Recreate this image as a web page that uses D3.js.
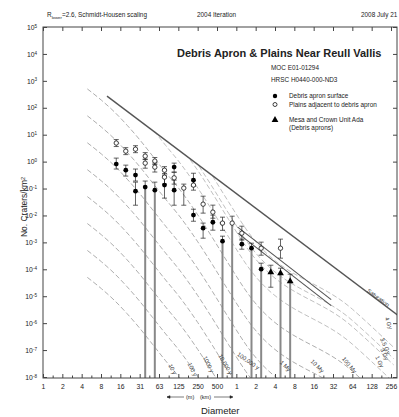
<!DOCTYPE html>
<html><head><meta charset="utf-8">
<script src="https://cdn.jsdelivr.net/npm/d3@7"></script>
<style>
body{margin:0;background:#fff;}
svg{display:block;font-family:"Liberation Sans",Arial,sans-serif;}
</style>
</head><body>
<svg id="chart" width="399" height="417"></svg>
<script>
// ---------------- data ----------------
const xTickKm = [1/1024,1/512,1/256,1/128,1/64,1/32,1/16,1/8,1/4,1/2,1,2,4,8,16,32,64,128,256];
const xTickLabels = ["1","2","4","8","16","31","63","125","250","500","1","2","4","8","16","32","64","128","256"];
const yTickExp = [5,4,3,2,1,0,-1,-2,-3,-4,-5,-6,-7,-8];

// [diameter km, N per km2, lower error (0 = to axis), upper error]
const apronPoints = [
  [0.0135, 0.81, 0.53, 1.35],
  [0.0190, 0.48, 0.29, 0.74],
  [0.0269, 0.315, 0.19, 0.53],
  [0.0269, 0.080, 0.024, 0.173],
  [0.0381, 0.113, 0, 0.19],
  [0.0538, 0.087, 0, 0.173],
  [0.0761, 0.134, 0.044, 0.315],
  [0.1076, 0.625, 0.41, 0.88],
  [0.1076, 0.087, 0.024, 0.205],
  [0.215, 0.205, 0.123, 0.37],
  [0.215, 0.0103, 0.0061, 0.0171],
  [0.304, 0.00337, 0.00143, 0.0052],
  [0.431, 0.0056, 0.00284, 0.0103],
  [0.609, 0.00111, 0, 0.0017],
  [1.218, 0.000857, 0.000558, 0.00132],
  [1.722, 0.000608, 0, 0.000933],
  [2.436, 0.000101, 0, 0.000169]
];
const plainsPoints = [
  [0.0135, 4.9, 3.63, 6.6],
  [0.0190, 2.45, 1.82, 3.3],
  [0.0269, 2.9, 2.15, 3.9],
  [0.0381, 1.6, 1.19, 2.16],
  [0.0381, 0.88, 0.57, 1.24],
  [0.0538, 1.05, 0.78, 1.42],
  [0.0538, 0.625, 0.41, 0.88],
  [0.0761, 0.48, 0.36, 0.65],
  [0.0761, 0.265, 0.146, 0.48],
  [0.1076, 0.25, 0.146, 0.40],
  [0.152, 0.104, 0.024, 0.146],
  [0.215, 0.134, 0.087, 0.205],
  [0.304, 0.0263, 0.0122, 0.052],
  [0.431, 0.0133, 0.0079, 0.0242],
  [0.609, 0.0052, 0.0028, 0.00865],
  [0.861, 0.0052, 0, 0.0094],
  [1.218, 0.0022, 0.00121, 0.0040],
  [2.436, 0.000608, 0.000334, 0.00102],
  [4.871, 0.000608, 0.000259, 0.00132]
];
const mesaPoints = [
  [3.445, 0.000078, 0.0000216, 0.000142],
  [4.871, 0.0000716, 0, 0.00011],
  [6.889, 0.0000361, 0, 0.0000658]
];

// Hartmann 2004-iteration isochron shape (100 My), log10 D(km) vs log10 N
const isoShapeLogD = [-2.32,-2.10,-1.90,-1.70,-1.50,-1.30,-1.10,-0.90,-0.60,-0.40,-0.12,0.15,1.806,2.45];
const isoShapeLogN = [ 2.70, 2.28, 1.85, 1.35, 0.80, 0.20,-0.40,-0.98,-1.98,-2.72,-3.80,-4.80,-7.78,-9.20];
const isoNames   = ["10 y","100 y","1000 y","10,000 y","100,000 y","1 My","10 My","100 My","1 Gy","3 Gy","3.5 Gy","4 Gy"];
const isoShift   = [-7,-6,-5,-4,-3,-2,-1,0,1.0,1.65,1.88,2.3];
const isoStartLogD = [-2.32,-2.32,-2.32,-2.32,-2.32,-2.32,-2.32,-2.32,-1.28,-0.72,-0.58,-0.37];
// label anchor (D km, N) and angle
const isoLabelD = [0.0997,0.204,0.363,0.667,1.52,5.73,18.0,56.8,168,200,206,232];
const isoLabelN = [1.9e-8,1.9e-8,2.9e-8,2.9e-8,3.8e-8,2.5e-8,2.5e-8,2.7e-8,3.6e-8,6.9e-8,1.4e-7,1.0e-6];
const isoLabelAngle = [65,65,65,60,35,45,45,50,65,65,65,70];

const saturation = [[0.00969, 272], [325, 1.97e-6]];
const saturationLabel = {D: 161, N: 8.5e-6, angle: 37};
const fitLines = [
  [[1.05, 0.00367], [30, 7.5e-6]],
  [[1.05, 0.0022], [30, 4.5e-6]]
];

// ---------------- drawing ----------------
const svg = d3.select("#chart");
const box = {l:43, r:397, t:27, b:378};
const x = d3.scaleLog().base(2).domain([1/1024, 256]).range([43, 391]);
const y = d3.scaleLog().domain([1e-8, 1e5]).range([377, 27]);

svg.append("defs").append("clipPath").attr("id","clip")
  .append("rect").attr("x",box.l).attr("y",box.t).attr("width",box.r-box.l).attr("height",box.b-box.t);

const plot = svg.append("g").attr("clip-path","url(#clip)");

// isochrons
const interp = (ld) => {
  for (let i=0;i<isoShapeLogD.length-1;i++){
    const a=isoShapeLogD[i], b=isoShapeLogD[i+1];
    if (ld>=a && ld<=b){const t=(ld-a)/(b-a); return isoShapeLogN[i]+t*(isoShapeLogN[i+1]-isoShapeLogN[i]);}
  }
  return isoShapeLogN[0];
};
const line = d3.line().x(d=>x(d[0])).y(d=>y(d[1])).curve(d3.curveMonotoneX);
isoNames.forEach((name,i)=>{
  const st = isoStartLogD[i];
  const pts = [[Math.pow(10,st), Math.pow(10, interp(st)+isoShift[i])]];
  isoShapeLogD.forEach((ld,j)=>{ if (ld>st+0.01) pts.push([Math.pow(10,ld), Math.pow(10,isoShapeLogN[j]+isoShift[i])]); });
  plot.append("path").attr("d",line(pts)).attr("fill","none")
    .attr("stroke", i>=8 ? "#c0c0c0" : "#aeaeae").attr("stroke-width",1)
    .attr("stroke-dasharray","5,2.5");
});

// saturation & fit lines
plot.append("path").attr("d", d3.line().x(d=>x(d[0])).y(d=>y(d[1]))(saturation))
  .attr("stroke","#555").attr("stroke-width",1.4).attr("fill","none");
fitLines.forEach(f=>{
  plot.append("path").attr("d", d3.line().x(d=>x(d[0])).y(d=>y(d[1]))(f))
    .attr("stroke","#555").attr("stroke-width",1.1).attr("fill","none");
});

// error bars
function errBars(data){
  data.forEach(d=>{
    const cx = x(d[0]), cy = y(d[1]), yh = y(d[3]);
    plot.append("line").attr("x1",cx).attr("x2",cx).attr("y1",yh).attr("y2",cy).attr("stroke","#222").attr("stroke-width",0.7);
    plot.append("line").attr("x1",cx-2.5).attr("x2",cx+2.5).attr("y1",yh).attr("y2",yh).attr("stroke","#222").attr("stroke-width",0.7);
    if (d[2] > 0){
      const yl = y(d[2]);
      plot.append("line").attr("x1",cx).attr("x2",cx).attr("y1",cy).attr("y2",yl).attr("stroke","#222").attr("stroke-width",0.7);
      plot.append("line").attr("x1",cx-2.5).attr("x2",cx+2.5).attr("y1",yl).attr("y2",yl).attr("stroke","#222").attr("stroke-width",0.7);
    } else {
      plot.append("line").attr("x1",cx).attr("x2",cx).attr("y1",cy).attr("y2",box.b).attr("stroke","#888").attr("stroke-width",2);
    }
  });
}
errBars(apronPoints); errBars(plainsPoints); errBars(mesaPoints);

plot.selectAll(".pl").data(plainsPoints).join("circle")
  .attr("cx",d=>x(d[0])).attr("cy",d=>y(d[1])).attr("r",2.2)
  .attr("fill","#fff").attr("stroke","#111").attr("stroke-width",0.8);
plot.selectAll(".ap").data(apronPoints).join("circle")
  .attr("cx",d=>x(d[0])).attr("cy",d=>y(d[1])).attr("r",2.4).attr("fill","#000");
const tri = d3.symbol().type(d3.symbolTriangle).size(20);
plot.selectAll(".ms").data(mesaPoints).join("path")
  .attr("d",tri).attr("transform",d=>`translate(${x(d[0])},${y(d[1])})`).attr("fill","#000");

// curve labels
const lblG = svg.append("g").attr("font-size",5.8).attr("fill","#333");
isoNames.forEach((name,i)=>{
  lblG.append("text").attr("text-anchor","middle").attr("dominant-baseline","middle")
    .attr("transform",`translate(${x(isoLabelD[i])},${y(isoLabelN[i])}) rotate(${isoLabelAngle[i]})`)
    .text(name);
});
lblG.append("text").attr("text-anchor","middle").attr("dominant-baseline","middle")
  .attr("transform",`translate(${x(saturationLabel.D)},${y(saturationLabel.N)}) rotate(${saturationLabel.angle})`)
  .text("Saturation");

// frame and axes
svg.append("rect").attr("x",box.l).attr("y",box.t).attr("width",box.r-box.l).attr("height",box.b-box.t)
  .attr("fill","none").attr("stroke","#444").attr("stroke-width",1);

const minorX = xTickKm.slice(0,-1).map(v=>v*Math.SQRT2);
const axB = svg.append("g").attr("transform",`translate(0,${box.b})`)
  .call(d3.axisBottom(x).tickValues(xTickKm).tickFormat((d,i)=>xTickLabels[i]).tickSize(-4).tickPadding(6));
svg.append("g").attr("transform",`translate(0,${box.b})`)
  .call(d3.axisBottom(x).tickValues(minorX).tickFormat("").tickSize(-2.5));
svg.append("g").attr("transform",`translate(0,${box.t})`)
  .call(d3.axisTop(x).tickValues(xTickKm).tickFormat("").tickSize(-4));
const yTicks = yTickExp.map(e=>Math.pow(10,e));
const axL = svg.append("g").attr("transform",`translate(${box.l},0)`)
  .call(d3.axisLeft(y).tickValues(yTicks).tickFormat("").tickSize(-4).tickPadding(6));
svg.append("g").attr("transform",`translate(${box.r},0)`)
  .call(d3.axisRight(y).tickValues(yTicks).tickFormat("").tickSize(-4));
svg.selectAll(".domain").remove();
svg.selectAll(".tick line").attr("stroke","#444");
axB.selectAll("text").attr("font-size",6.8).attr("fill","#222").attr("font-family","Liberation Sans, Arial, sans-serif");

// y tick labels with superscripts
axL.selectAll(".tick").each(function(d,i){
  const t = d3.select(this).append("text").attr("x",-6).attr("dy","0.32em")
    .attr("text-anchor","end").attr("font-size",6.8).attr("fill","#222")
    .attr("font-family","Liberation Sans, Arial, sans-serif");
  t.append("tspan").text("10");
  t.append("tspan").attr("dy","-0.45em").attr("font-size",4.6).text(yTickExp[i]);
});

// axis titles
const yt = svg.append("text").attr("transform","translate(27,207) rotate(-90)")
  .attr("text-anchor","middle").attr("font-size",8.5).attr("fill","#222");
yt.append("tspan").text("No. Craters/km");
yt.append("tspan").attr("dy","-0.4em").attr("font-size",5.5).text("2");

svg.append("text").attr("x",201).attr("y",414).attr("font-size",9.5).attr("fill","#222").text("Diameter");

const arr = svg.append("g").attr("stroke","#222").attr("stroke-width",0.6);
arr.append("line").attr("x1",167).attr("x2",184).attr("y1",397).attr("y2",397);
arr.append("path").attr("d","M167,397 l3,-1.3 v2.6 z").attr("fill","#222");
arr.append("line").attr("x1",214).attr("x2",232).attr("y1",397).attr("y2",397);
arr.append("path").attr("d","M233,397 l-3,-1.3 v2.6 z").attr("fill","#222");
svg.append("text").attr("x",186).attr("y",399).attr("font-size",5.5).attr("fill","#222").text("(m)");
svg.append("text").attr("x",200).attr("y",399).attr("font-size",5.5).attr("fill","#222").text("(km)");

// header
const h1 = svg.append("text").attr("x",47).attr("y",17).attr("font-size",6.4).attr("fill","#222");
h1.append("tspan").text("R");
h1.append("tspan").attr("dy",1.5).attr("font-size",4.3).text("lower");
h1.append("tspan").attr("dy",-1.5).text("=2.6, Schmidt-Housen scaling");
svg.append("text").attr("x",197).attr("y",17).attr("font-size",6.4).attr("fill","#222").text("2004 Iteration");
svg.append("text").attr("x",361).attr("y",17).attr("font-size",6.4).attr("fill","#222").text("2008 July 21");

// title and legend
svg.append("text").attr("x",177).attr("y",57).attr("font-size",11).attr("font-weight","bold")
  .attr("fill","#222").text("Debris Apron & Plains Near Reull Vallis");
svg.append("text").attr("x",271).attr("y",70).attr("font-size",6.4).attr("fill","#222").text("MOC E01-01294");
svg.append("text").attr("x",271).attr("y",82).attr("font-size",6.4).attr("fill","#222").text("HRSC H0440-000-ND3");
const leg = svg.append("g").attr("font-size",6.4).attr("fill","#222");
leg.append("circle").attr("cx",275).attr("cy",96).attr("r",2.2).attr("fill","#000");
leg.append("text").attr("x",289).attr("y",98).text("Debris apron surface");
leg.append("circle").attr("cx",275).attr("cy",104.5).attr("r",2).attr("fill","#fff").attr("stroke","#111").attr("stroke-width",0.8);
leg.append("text").attr("x",289).attr("y",106.5).text("Plains adjacent to debris apron");
leg.append("path").attr("d",tri).attr("transform","translate(275,120)").attr("fill","#000");
leg.append("text").attr("x",289).attr("y",122).text("Mesa and Crown Unit Ada");
leg.append("text").attr("x",289).attr("y",130).text("(Debris aprons)");
</script>
</body></html>
